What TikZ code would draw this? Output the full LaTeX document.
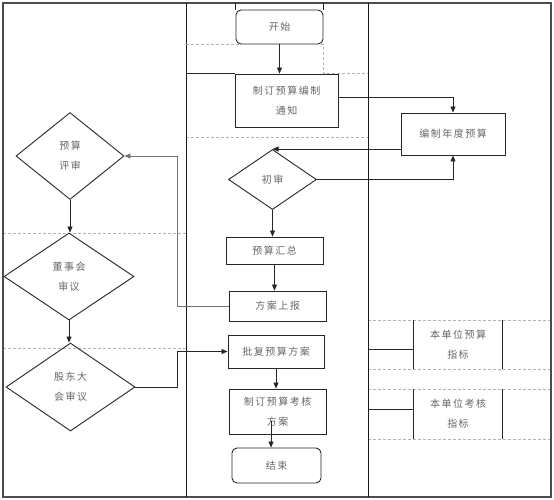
\documentclass[tikz,border=0pt]{standalone}
\usepackage{fontspec}
\newfontfamily\cjk[LetterSpace=15]{Noto Sans CJK SC}
\usetikzlibrary{shapes.geometric,arrows.meta,calc}
\begin{document}
\begin{tikzpicture}[x=1pt,y=-1pt,
  every node/.style={font=\cjk\fontsize{10}{20}\selectfont, text=black!60, align=center, inner sep=0pt},
  proc/.style={draw=black!85, line width=0.9pt, rectangle},
  term/.style={proc, rounded corners=5pt},
  dec/.style={draw=black!85, line width=0.9pt, diamond},
  arr/.style={-{Triangle[length=6pt,width=5pt]}, line width=0.8pt, draw=black!85},
  link/.style={line width=0.8pt, draw=black!85},
  lane/.style={draw=black!30, line width=0.6pt, dash pattern=on 3pt off 2pt},
  frame/.style={draw=black!70, line width=1.5pt},
  col/.style={draw=black!90, line width=0.9pt}]
\useasboundingbox (0,0) rectangle (554,499);
\coordinate (cM) at (186,0);
\coordinate (cR) at (368,0);
\coordinate (xL) at (177,0);
\coordinate (top) at (0,3);
% lanes (dashed)
\draw[lane] (3,233) -- (186,233);
\draw[lane] (3,348) -- (186,348);
\draw[lane] (186,137) -- (368,137);
\draw[lane] (368,320) -- (551,320);
\draw[lane] (368,369) -- (551,369);
\draw[lane] (368,389) -- (551,389);
\draw[lane] (368,439) -- (551,439);
% frame and columns
\draw[frame] (3,3) rectangle (551,497);
\draw[col] (186,3) -- (186,497);
\draw[col] (368,3) -- (368,497);
% nodes
\node[term, minimum width=87pt, minimum height=34pt] (start) at (279.5,27) {开始};
\node[proc, minimum width=103pt, minimum height=53pt] (notice) at (286.5,100.5) {制订预算编制\\通知};
\node[proc, minimum width=104pt, minimum height=42pt] (annual) at (453,134) {编制年度预算};
\node[dec, minimum width=88pt, minimum height=60pt] (chushen) at (272.5,179.5) {初审};
\node[proc, minimum width=97pt, minimum height=27pt] (huizong) at (274.5,250.5) {预算汇总};
\node[proc, minimum width=97pt, minimum height=30pt] (shangbao) at (277.5,306) {方案上报};
\node[dec, minimum width=108pt, minimum height=87pt] (pingshen) at (70,156) {预算\\评审};
\node[dec, minimum width=130pt, minimum height=87pt] (dongshi) at (69,276.5) {董事会\\审议};
\node[dec, minimum width=129pt, minimum height=88pt] (gudong) at (70.5,387) {股东大\\会审议};
\node[proc, minimum width=96pt, minimum height=33pt] (pifu) at (276,351.5) {批复预算方案};
\node[proc, minimum width=97pt, minimum height=45pt] (kaohe) at (277.5,411.5) {制订预算考核\\方案};
\node[term, minimum width=89pt, minimum height=35pt] (stop) at (276.5,465.5) {结束};
\node[minimum width=88pt, minimum height=49pt] (zb1) at (458,344.5) {本单位预算\\指标};
\node[minimum width=88pt, minimum height=50pt] (zb2) at (458,414) {本单位考核\\指标};
% lane details around start
\draw[lane] (cM |- start.south) -- (start.south east) -- (start.south east |- notice.north) -- (cR |- notice.north);
\draw[link] (cM |- notice.north) -- (notice.north west);
\draw[link] (start.north west) -- (start.north west |- top);
\draw[link] (start.north east) -- (start.north east |- top);
% indicator boxes
\draw[link] (zb1.north west) -- (zb1.south west);
\draw[link] (zb1.north east) -- (zb1.south east);
\draw[link] (zb2.north west) -- (zb2.south west);
\draw[link] (zb2.north east) -- (zb2.south east);
\coordinate (z1) at ([yshift=-4.5pt]zb1.west);
\coordinate (z2) at ([yshift=5pt]zb2.west);
\draw[link] (z1 -| cR) -- (z1);
\draw[link] (z2 -| cR) -- (z2);
% connectors
\coordinate (n1) at ([yshift=3.5pt]notice.east);
\draw[arr] (start.south) -- (start.south |- notice.north);
\draw[arr] (n1) -| (annual.north);
\draw[arr] (annual.west |- chushen.north) -- (chushen.north);
\draw[arr] (chushen.east) -| (annual.south);
\draw[arr] (chushen.south) -- (chushen.south |- huizong.north);
\draw[arr] (huizong.south) -- (huizong.south |- shangbao.north);
\draw[arr, draw=black!55] (shangbao.west) -- (shangbao.west -| xL) |- (pingshen.east);
\draw[arr] (pingshen.south) -- (pingshen.south |- dongshi.north);
\draw[arr] (dongshi.south) -- (dongshi.south |- gudong.north);
\draw[arr] (gudong.east) -- (gudong.east -| xL) |- (pifu.west);
\draw[arr] (pifu.south) -- (pifu.south |- kaohe.north);
\coordinate (kin) at ($(kaohe.south)+(-6.5,-13)$);
\draw[arr] (kin) -- (kin |- stop.north);
\end{tikzpicture}
\end{document}
